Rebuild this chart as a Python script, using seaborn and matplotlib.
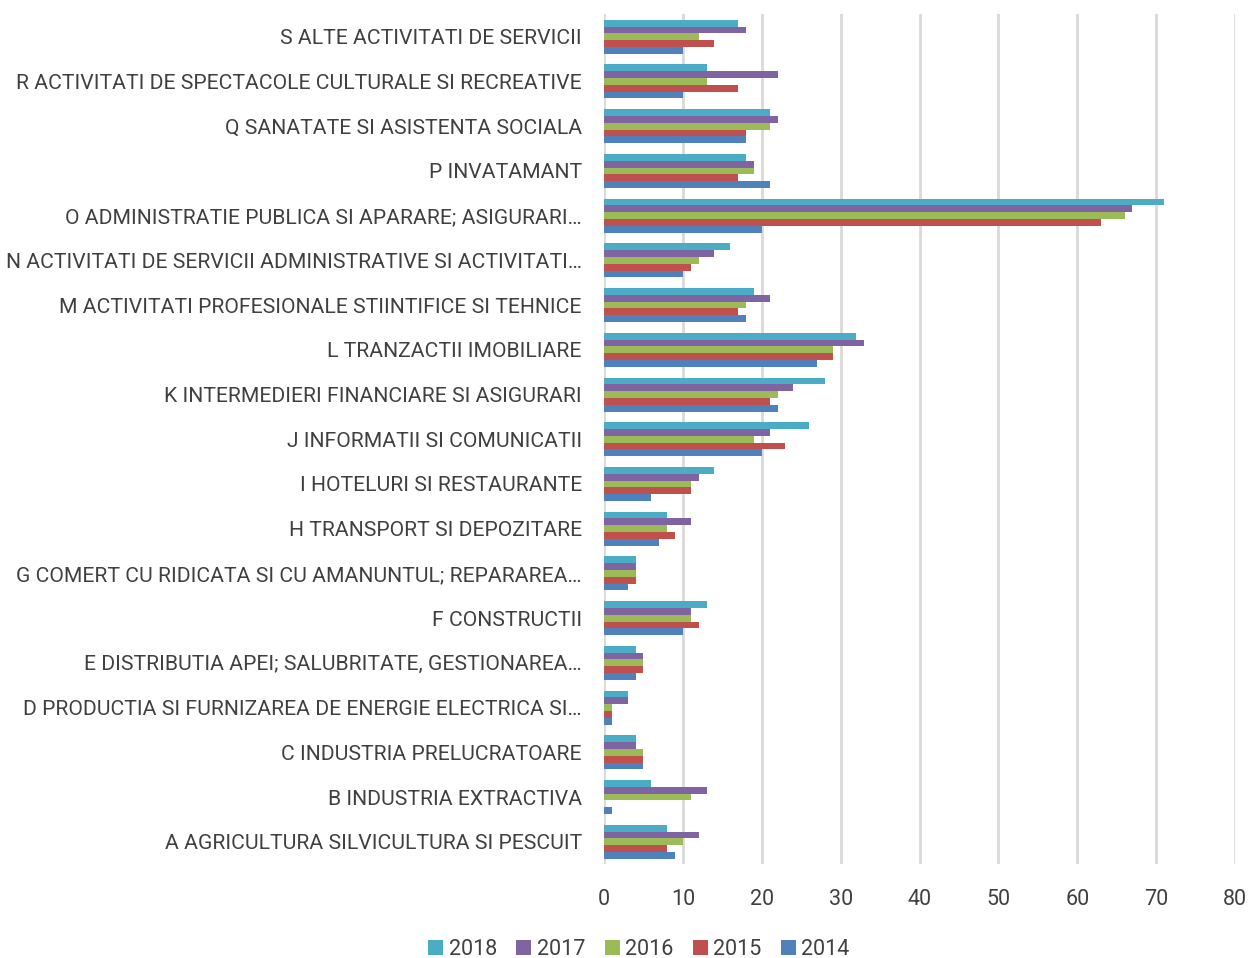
import matplotlib.pyplot as plt
import seaborn as sns
import pandas as pd

categories = [
    "S ALTE ACTIVITATI DE SERVICII",
    "R ACTIVITATI DE SPECTACOLE CULTURALE SI RECREATIVE",
    "Q SANATATE SI ASISTENTA SOCIALA",
    "P INVATAMANT",
    "O ADMINISTRATIE PUBLICA SI APARARE; ASIGURARI…",
    "N ACTIVITATI DE SERVICII ADMINISTRATIVE SI ACTIVITATI…",
    "M ACTIVITATI PROFESIONALE STIINTIFICE SI TEHNICE",
    "L TRANZACTII IMOBILIARE",
    "K INTERMEDIERI FINANCIARE SI ASIGURARI",
    "J INFORMATII SI COMUNICATII",
    "I HOTELURI SI RESTAURANTE",
    "H TRANSPORT SI DEPOZITARE",
    "G COMERT CU RIDICATA SI CU AMANUNTUL; REPARAREA…",
    "F CONSTRUCTII",
    "E DISTRIBUTIA APEI; SALUBRITATE, GESTIONAREA…",
    "D PRODUCTIA SI FURNIZAREA DE ENERGIE ELECTRICA SI…",
    "C INDUSTRIA PRELUCRATOARE",
    "B INDUSTRIA EXTRACTIVA",
    "A AGRICULTURA SILVICULTURA SI PESCUIT",
]

years = ["2018", "2017", "2016", "2015", "2014"]

v2018 = [17, 13, 21, 18, 71, 16, 19, 32, 28, 26, 14, 8, 4, 13, 4, 3, 4, 6, 8]
v2017 = [18, 22, 22, 19, 67, 14, 21, 33, 24, 21, 12, 11, 4, 11, 5, 3, 4, 13, 12]
v2016 = [12, 13, 21, 19, 66, 12, 18, 29, 22, 19, 11, 8, 4, 11, 5, 1, 5, 11, 10]
v2015 = [14, 17, 18, 17, 63, 11, 17, 29, 21, 23, 11, 9, 4, 12, 5, 1, 5, 0, 8]
v2014 = [10, 10, 18, 21, 20, 10, 18, 27, 22, 20, 6, 7, 3, 10, 4, 1, 5, 1, 9]

colors = ["#4BACC6", "#8064A2", "#9BBB59", "#C0504D", "#4F81BD"]

df = pd.DataFrame(
    {"Categorie": categories, "2018": v2018, "2017": v2017, "2016": v2016,
     "2015": v2015, "2014": v2014}
)
long_df = df.melt(id_vars="Categorie", var_name="An", value_name="Valoare")

sns.set_style("white")
plt.rcParams["font.family"] = ["Roboto", "DejaVu Sans"]

fig = plt.figure(figsize=(12.48, 9.58), dpi=100)
ax = fig.add_axes([0.484, 0.098, 0.5056, 0.887])

sns.barplot(
    data=long_df, y="Categorie", x="Valoare", hue="An", hue_order=years,
    order=categories, palette=colors, orient="h", width=0.76, ax=ax,
    saturation=1, linewidth=0,
)

ax.set_xlim(0, 80)
ax.set_ylim(18.5, -0.5)
ax.set_xticks(range(0, 81, 10))
ax.grid(axis="x", color="#d9d9d9", linewidth=2)
ax.set_axisbelow(True)
for s in ax.spines.values():
    s.set_visible(False)
ax.tick_params(axis="y", length=0, labelsize=15.2, labelcolor="#404040", pad=16)
ax.tick_params(axis="x", length=0, labelsize=15.5, labelcolor="#404040", pad=18)
ax.set_xlabel("")
ax.set_ylabel("")

handles, labels = ax.get_legend_handles_labels()
ax.legend_.remove()
fig.legend(handles, labels, loc="lower center", bbox_to_anchor=(0.512, -0.022),
           ncol=5, frameon=False, fontsize=15.5, handlelength=0.7, handleheight=0.7,
           handletextpad=0.25, columnspacing=0.9, labelcolor="#404040")

fig.savefig("out.png", dpi=100)
